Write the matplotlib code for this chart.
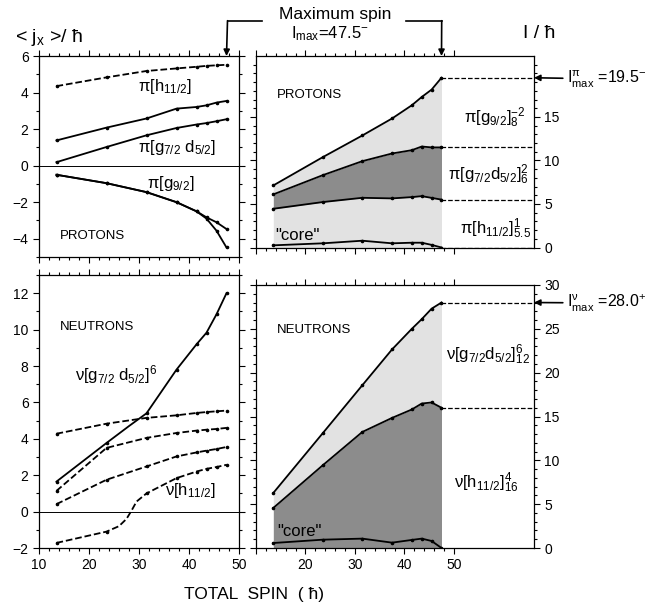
import numpy as np
import matplotlib.pyplot as plt
from matplotlib.lines import Line2D
from matplotlib.ticker import MultipleLocator, FixedLocator

plt.rcParams['font.family'] = ['Liberation Sans', 'DejaVu Sans']
plt.rcParams['mathtext.fontset'] = 'custom'
plt.rcParams['mathtext.rm'] = 'Liberation Sans'
plt.rcParams['mathtext.it'] = 'Liberation Sans'
plt.rcParams['mathtext.default'] = 'rm'

# spins where the calculations were done
spin = [13.5, 23.5, 31.5, 37.5, 41.5, 43.5, 45.5, 47.5]

# <jx> protons
jx_p_h11 = [4.35, 4.83, 5.18, 5.32, 5.41, 5.46, 5.49, 5.52]
jx_p_gd_a = [1.38, 2.08, 2.58, 3.12, 3.21, 3.30, 3.45, 3.54]
jx_p_gd_b = [0.19, 1.02, 1.66, 2.06, 2.25, 2.33, 2.43, 2.54]
jx_p_g9_a = [-0.50, -0.96, -1.45, -2.00, -2.50, -2.83, -3.10, -3.47]
jx_p_g9_b = [-0.50, -0.96, -1.45, -2.00, -2.50, -2.90, -3.56, -4.48]

# <jx> neutrons
spin_n_gd = [13.5, 23.5, 28.0, 31.5, 34.5, 37.5, 41.5, 43.5, 45.5, 47.5]
jx_n_gd = [1.65, 3.77, 4.70, 5.40, 6.60, 7.80, 9.19, 9.83, 10.84, 12.0]
jx_n_d1 = [4.28, 4.83, 5.15, 5.29, 5.42, 5.47, 5.51, 5.55]
jx_n_d2 = [1.14, 3.50, 4.05, 4.32, 4.45, 4.50, 4.54, 4.60]
jx_n_d3 = [0.41, 1.75, 2.48, 3.03, 3.25, 3.35, 3.44, 3.55]
spin_n_h11 = [13.5, 23.5, 26.0, 27.5, 28.5, 29.5, 31.5, 37.5, 41.5, 43.5, 45.5, 47.5]
jx_n_h11 = [-1.72, -1.10, -0.80, -0.40, 0.05, 0.55, 1.00, 1.84, 2.20, 2.35, 2.45, 2.57]

# spin contributions, protons (cumulative)
I_p_core = [0.25, 0.48, 0.78, 0.48, 0.55, 0.55, 0.30, 0.0]
I_p_h11 = [4.45, 5.22, 5.71, 5.64, 5.79, 5.90, 5.70, 5.50]
I_p_gd = [6.10, 8.31, 9.92, 10.80, 11.18, 11.60, 11.50, 11.50]
I_p_tot = [7.13, 10.38, 12.87, 14.82, 16.34, 17.29, 18.14, 19.50]

# spin contributions, neutrons (cumulative)
I_n_core = [0.57, 0.95, 1.07, 0.61, 0.92, 1.07, 0.80, 0.0]
I_n_h11 = [4.57, 9.44, 13.24, 14.84, 15.80, 16.48, 16.60, 16.00]
I_n_tot = [6.28, 13.10, 18.57, 22.65, 25.00, 26.10, 27.30, 28.00]

LIGHT = '#e2e2e2'
DARK = '#8c8c8c'
W, H = 664, 609

fig = plt.figure(figsize=(W / 100, H / 100), dpi=100)


def frac(x0, y0, x1, y1):
    return [x0 / W, 1 - y1 / H, (x1 - x0) / W, (y1 - y0) / H]


ax_tl = fig.add_axes(frac(39, 56, 239, 257))
ax_bl = fig.add_axes(frac(39, 275, 239, 548))
ax_tr = fig.add_axes(frac(256, 56, 534, 247.5))
ax_br = fig.add_axes(frac(256, 285, 534, 548))


def style(ax, right=False):
    ax.tick_params(which='both', direction='out', top=True, right=True,
                   labelsize=10, width=0.8)
    ax.tick_params(which='major', length=4)
    ax.tick_params(which='minor', length=2.5)
    ax.xaxis.set_major_locator(FixedLocator([10, 20, 30, 40, 50]))
    ax.xaxis.set_minor_locator(FixedLocator(np.arange(10, 51, 2)))
    ax.yaxis.set_minor_locator(MultipleLocator(1))
    for s in ax.spines.values():
        s.set_linewidth(0.9)
    if right:
        ax.tick_params(axis='y', labelleft=False, labelright=True)


for ax in (ax_tl, ax_bl, ax_tr, ax_br):
    style(ax, right=ax in (ax_tr, ax_br))

lw = 1.3
ms = 1.6


def curve(ax, x, y, ls='-', every=None):
    ax.plot(x, y, color='k', ls=ls, lw=lw, marker='o', ms=ms, markevery=every)


# top left: protons <jx>
ax_tl.set_xlim(10, 50)
ax_tl.set_ylim(-5, 6)
ax_tl.yaxis.set_major_locator(FixedLocator([-4, -2, 0, 2, 4, 6]))
ax_tl.axhline(0, color='k', lw=0.7)
curve(ax_tl, spin, jx_p_h11, '--')
for y in (jx_p_gd_a, jx_p_gd_b, jx_p_g9_a, jx_p_g9_b):
    curve(ax_tl, spin, y)
ax_tl.tick_params(axis='x', labelbottom=False)
ax_tl.text(29.8, 4.1, r'π[h$_{11/2}$]', fontsize=12)
ax_tl.text(29.8, 0.75, r'π[g$_{7/2}$ d$_{5/2}$]', fontsize=12)
ax_tl.text(31.6, -1.2, r'π[g$_{9/2}$]', fontsize=12)
ax_tl.text(14.2, -4.0, 'PROTONS', fontsize=9.5)

# bottom left: neutrons <jx>
ax_bl.set_xlim(10, 50)
ax_bl.set_ylim(-2, 13)
ax_bl.yaxis.set_major_locator(FixedLocator(np.arange(-2, 13, 2)))
ax_bl.axhline(0, color='k', lw=0.7)
curve(ax_bl, spin_n_gd, jx_n_gd, '-', [0, 1, 3, 5, 6, 7, 8, 9])
for y in (jx_n_d1, jx_n_d2, jx_n_d3):
    curve(ax_bl, spin, y, '--')
curve(ax_bl, spin_n_h11, jx_n_h11, '--', [0, 1, 6, 7, 8, 9, 10, 11])
ax_bl.text(14.2, 10.0, 'NEUTRONS', fontsize=9.5)
ax_bl.text(17.2, 7.2, r'ν[g$_{7/2}$ d$_{5/2}$]$^6$', fontsize=12)
ax_bl.text(35.2, 0.9, r'ν[h$_{11/2}$]', fontsize=12)

# top right: protons I
ax_tr.set_xlim(10, 66.2)
ax_tr.set_ylim(0, 22)
ax_tr.yaxis.set_major_locator(FixedLocator([0, 5, 10, 15]))
ax_tr.yaxis.set_minor_locator(FixedLocator(np.arange(0, 22, 1)))
ax_tr.tick_params(axis='x', labelbottom=False)
ax_tr.fill_between(spin, 0, I_p_h11, color=LIGHT, lw=0)
ax_tr.fill_between(spin, I_p_h11, I_p_gd, color=DARK, lw=0)
ax_tr.fill_between(spin, I_p_gd, I_p_tot, color=LIGHT, lw=0)
for y in (I_p_core, I_p_h11, I_p_gd, I_p_tot):
    curve(ax_tr, spin, y)
    ax_tr.plot([spin[-1], 66.2], [y[-1], y[-1]], 'k--', lw=0.9)
ax_tr.text(14.3, 17.2, 'PROTONS', fontsize=9.5)
ax_tr.text(13.8, 0.9, '"core"', fontsize=12)
ax_tr.text(52.0, 14.3, r'π[g$_{9/2}$]$_8^{-2}$', fontsize=12)
ax_tr.text(48.8, 7.8, r'π[g$_{7/2}$d$_{5/2}$]$_6^2$', fontsize=12)
ax_tr.text(51.3, 1.6, r'π[h$_{11/2}$]$_{5.5}^1$', fontsize=12)

# bottom right: neutrons I
ax_br.set_xlim(10, 66.2)
ax_br.set_ylim(0, 30)
ax_br.yaxis.set_major_locator(FixedLocator(np.arange(0, 31, 5)))
ax_br.xaxis.set_major_formatter(plt.FuncFormatter(lambda v, p: '' if v == 10 else '%d' % v))
ax_br.fill_between(spin, 0, I_n_h11, color=DARK, lw=0)
ax_br.fill_between(spin, I_n_h11, I_n_tot, color=LIGHT, lw=0)
for y in (I_n_core, I_n_h11, I_n_tot):
    curve(ax_br, spin, y)
for y in (I_n_h11, I_n_tot):
    ax_br.plot([spin[-1], 66.2], [y[-1], y[-1]], 'k--', lw=0.9)
ax_br.text(14.3, 24.5, 'NEUTRONS', fontsize=9.5)
ax_br.text(14.2, 1.4, '"core"', fontsize=12)
ax_br.text(48.5, 21.4, r'ν[g$_{7/2}$d$_{5/2}$]$_{12}^6$', fontsize=12)
ax_br.text(50.0, 6.8, r'ν[h$_{11/2}$]$_{16}^4$', fontsize=12)

# headers
fig.text(15 / W, 1 - 38 / H, r'< j$_\mathregular{x}$ >/ ħ', fontsize=14, va='center')
fig.text(523 / W, 1 - 33 / H, 'I / ħ', fontsize=14, va='center')
fig.text(335 / W, 1 - 15 / H, 'Maximum spin', fontsize=12.5, ha='center', va='center')
fig.text(330 / W, 1 - 34 / H, r'I$_{max}$=47.5$^{-}$', fontsize=12, ha='center', va='center')
fig.text(254 / W, 1 - 595 / H, 'TOTAL  SPIN  ( ħ)', fontsize=12.5, ha='center', va='center')

# maximum spin pointers
yline = 1 - 20.7 / H
fig.add_artist(Line2D([227.5 / W, 262 / W], [yline, yline], color='k', lw=1.2))
fig.add_artist(Line2D([406 / W, 441.7 / W], [yline, yline], color='k', lw=1.2))
ax_tl.annotate('', xy=(47.5, 6), xycoords='data',
               xytext=(227.5 / W, yline), textcoords='figure fraction',
               arrowprops=dict(arrowstyle='-|>', color='k', lw=1.2, mutation_scale=9,
                               shrinkA=0, shrinkB=0))
ax_tr.annotate('', xy=(47.5, 22), xycoords='data',
               xytext=(441.7 / W, yline), textcoords='figure fraction',
               arrowprops=dict(arrowstyle='-|>', color='k', lw=1.2, mutation_scale=9,
                               shrinkA=0, shrinkB=0))

# I_max pointers
ax_tr.annotate(r'I$_{max}^{π}$ =19.5$^{-}$', xy=(66.2, I_p_tot[-1]), xycoords='data',
               xytext=(567 / W, 1 - 79 / H), textcoords='figure fraction',
               fontsize=11.5, va='center', ha='left',
               arrowprops=dict(arrowstyle='-|>', color='k', lw=1.2, mutation_scale=9,
                               shrinkA=1, shrinkB=0))
ax_br.annotate(r'I$_{max}^{ν}$ =28.0$^{+}$', xy=(66.2, I_n_tot[-1]), xycoords='data',
               xytext=(567 / W, 1 - 303 / H), textcoords='figure fraction',
               fontsize=11.5, va='center', ha='left',
               arrowprops=dict(arrowstyle='-|>', color='k', lw=1.2, mutation_scale=9,
                               shrinkA=1, shrinkB=0))

fig.savefig('out.png', dpi=100)
